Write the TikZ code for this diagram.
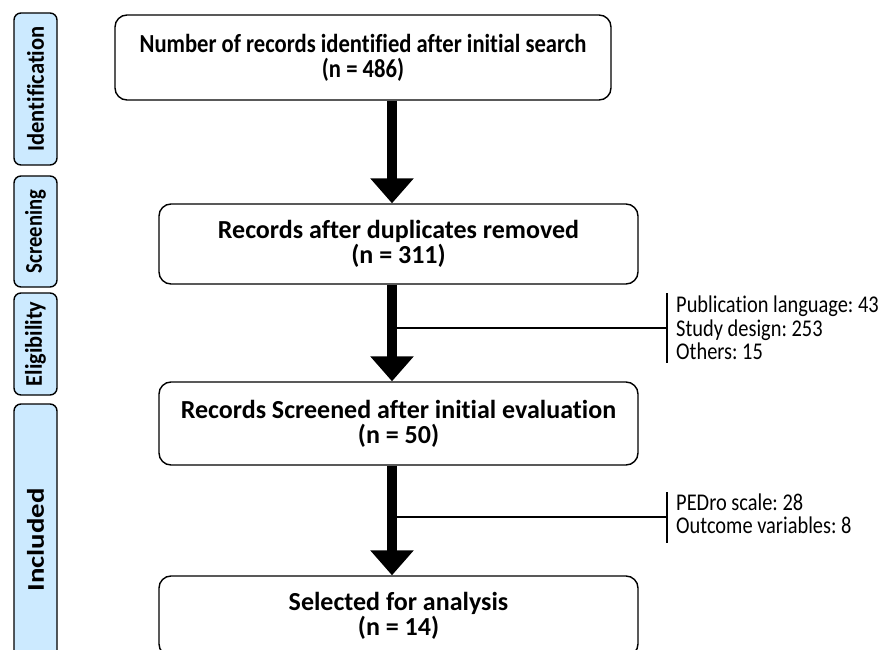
\documentclass[tikz,border=0pt]{standalone}
\usepackage{fontspec}
\usepackage{graphicx}
\setmainfont[Ligatures=CommonOff]{Carlito}
\newfontfamily\narrowA[FakeStretch=0.87, Ligatures=CommonOff]{Carlito}
\newfontfamily\narrowC[FakeStretch=0.85, Ligatures=CommonOff]{Carlito}
\usetikzlibrary{arrows.meta,calc}
\definecolor{stagefill}{RGB}{204,234,255}
\begin{document}
\frenchspacing
\begin{tikzpicture}[x=1pt,y=-1pt,
  box/.style={draw, line width=1.4pt, rounded corners=12pt, align=center, inner sep=0pt,
    font=\bfseries\fontsize{26}{25}\selectfont},
  stage/.style={draw, line width=1.4pt, rounded corners=7pt, fill=stagefill, rotate=90,
    inner sep=0pt, minimum height=43pt, font=\bfseries\fontsize{24}{24}\selectfont},
  flow/.style={line width=10pt, -{Triangle[width=42pt,length=25pt]}},
  excl/.style={anchor=west, align=left, inner xsep=9pt, inner ysep=0pt,
    font=\narrowC\fontsize{24}{23.5}\selectfont},
  exline/.style={line width=1.2pt}
]
\useasboundingbox (0,0) rectangle (881,650);
\clip (0,0) rectangle (881,650);

% stage labels
\node[stage, minimum width=152pt] (s1) at (35.5,89) {\scalebox{0.94}[1]{Identification}};
\node[stage, minimum width=111pt] (s2) at (35.5,231.5) {\scalebox{0.86}[1]{Screening}};
\node[stage, minimum width=102pt] (s3) at (35.5,344) {\scalebox{0.93}[1]{Eligibility}};
\node[stage, minimum width=272pt] (s4) at (35.5,540) {\scalebox{1.2}[1]{Included}};

% main boxes
\node[box, minimum width=496pt, minimum height=85pt, font=\narrowA\bfseries\fontsize{26}{25}\selectfont] (b1) at (363,57.5)
  {Number of records identified after initial search\\(n = 486)};
\node[box, minimum width=479pt, minimum height=80pt] (b2) at (398.5,244)
  {Records after duplicates removed\\(n = 311)};
\node[box, minimum width=479pt, minimum height=83pt] (b3) at (398.5,423.5)
  {Records Screened after initial evaluation\\(n = 50)};
\node[box, minimum width=479pt, minimum height=80pt] (b4) at (398.5,616)
  {Selected for analysis\\(n = 14)};

% arrows
\coordinate (ax) at (392,0);
\draw[flow] (b1.south -| ax) -- (b2.north -| ax);
\draw[flow] (b2.south -| ax) -- (b3.north -| ax);
\draw[flow] (b3.south -| ax) -- (b4.north -| ax);

% exclusions
\node[excl] (e1) at (667,328) {Publication language: 43\\Study design: 253\\Others: 15};
\draw[exline] ($(e1.west)+(0,-35)$) -- ($(e1.west)+(0,35)$);
\coordinate (j1) at (392,328);
\draw[exline] (j1) -- (j1 -| e1.west);

\node[excl] (e2) at (667,514) {PEDro scale: 28\\Outcome variables: 8};
\draw[exline] ($(e2.west)+(0,-22)$) -- ($(e2.west)+(0,29)$);
\coordinate (j2) at (392,517);
\draw[exline] (j2) -- (j2 -| e2.west);
\end{tikzpicture}
\end{document}
